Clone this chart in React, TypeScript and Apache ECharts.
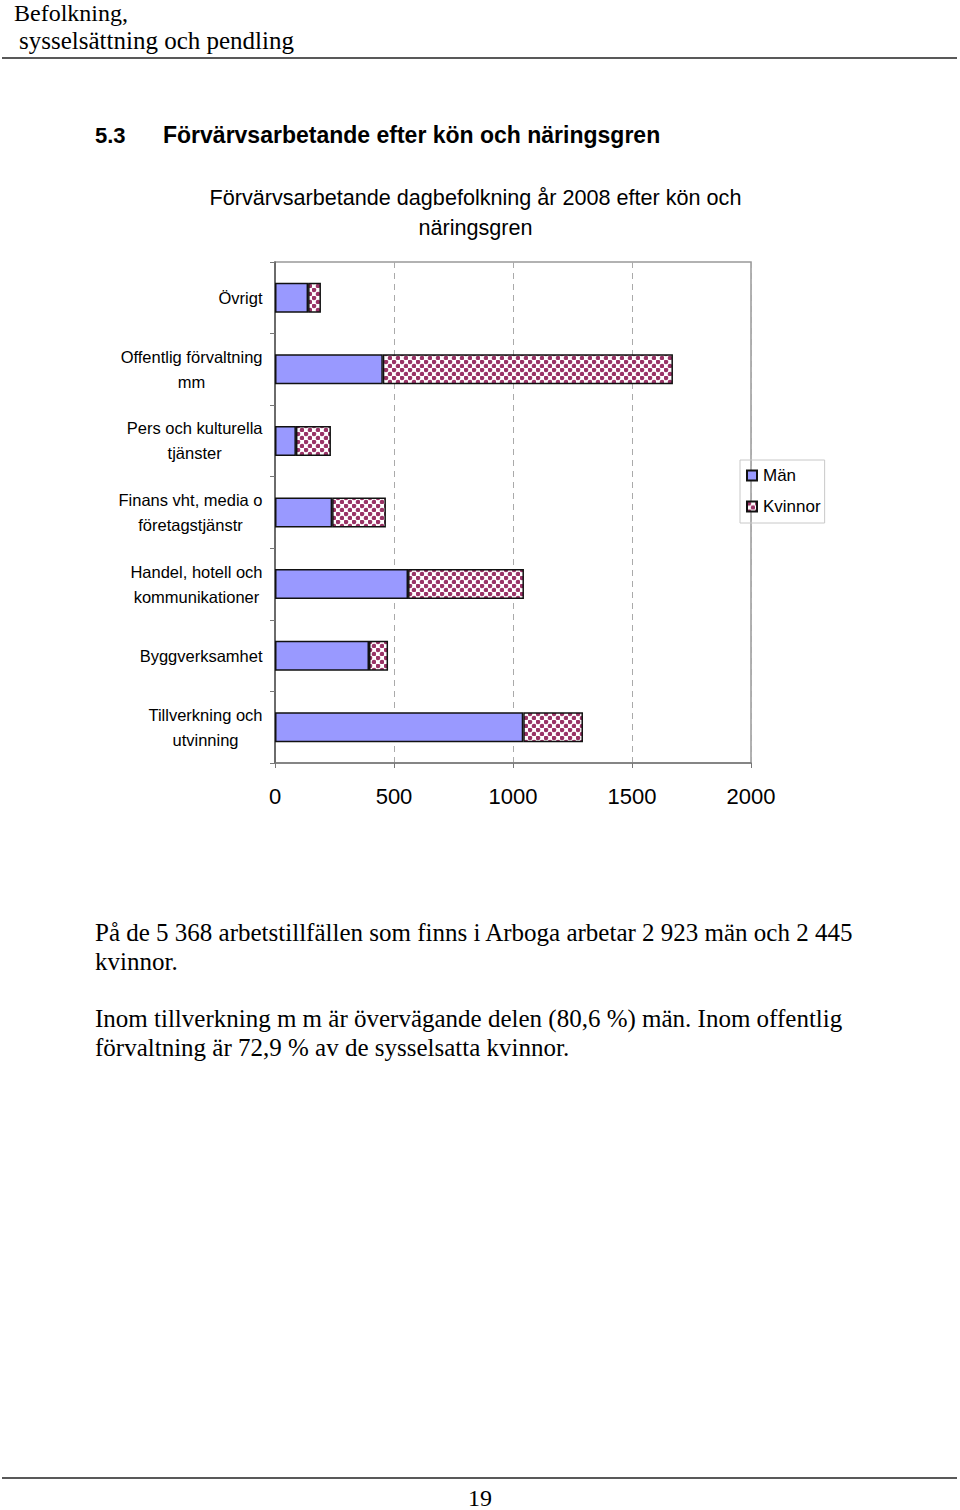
import React, { useEffect, useRef } from "react";
import * as echarts from "echarts";

const categories = [
  "Övrigt",
  "Offentlig förvaltning\nmm",
  "Pers och kulturella\ntjänster",
  "Finans vht, media o\nföretagstjänstr",
  "Handel, hotell och\nkommunikationer",
  "Byggverksamhet",
  "Tillverkning och\nutvinning",
];
const man = [139, 453, 88, 240, 559, 395, 1043];
const kvinnor = [54, 1219, 147, 226, 487, 80, 251];
const seriesNames = ["Män", "Kvinnor"];
const xTicks = [0, 500, 1000, 1500, 2000];

const SANS = "'Liberation Sans', Arial, sans-serif";
const SERIF = "'Liberation Serif', 'Times New Roman', serif";
const LABEL_SIZE = 16.5;

function makePattern(): string {
  const c = document.createElement("canvas");
  c.width = 8;
  c.height = 8;
  const ctx = c.getContext("2d")!;
  ctx.fillStyle = "#ffffff";
  ctx.fillRect(0, 0, 8, 8);
  ctx.fillStyle = "#993366";
  const dots = [
    [2, 2],
    [6, 6],
  ];
  for (const [x, y] of dots) {
    ctx.beginPath();
    ctx.arc(x, y, 2.3, 0, Math.PI * 2);
    ctx.fill();
  }
  return c.toDataURL();
}

function measure(t: string, font: string): number {
  const c = document.createElement("canvas");
  const ctx = c.getContext("2d")!;
  ctx.font = font;
  return ctx.measureText(t).width;
}

export default function App() {
  const ref = useRef<HTMLDivElement>(null);
  useEffect(() => {
    document.body.style.margin = "0";
    const chart = echarts.init(ref.current!, null, { renderer: "svg" });
    const pattern = { image: makePattern(), repeat: "repeat" };
    const font = `${LABEL_SIZE}px ${SANS}`;
    const rich: any = {};
    categories.forEach((c, i) => {
      const w = Math.max(...c.split("\n").map((l) => measure(l, font))) + 1;
      rich["c" + i] = {
        width: w,
        align: "center",
        fontFamily: SANS,
        fontSize: LABEL_SIZE,
        color: "#000",
        lineHeight: 25,
      };
    });
    const text = (x: number, y: number, t: string, f: any, extra: any = {}) => ({
      type: "text",
      x,
      y,
      style: {
        text: t,
        fill: "#000",
        verticalAlign: "middle",
        ...f,
        ...extra,
      },
    });
    chart.setOption({
      animation: false,
      backgroundColor: "#fff",
      legend: {
        orient: "vertical",
        left: 740,
        top: 460,
        data: seriesNames.map((n) => ({ name: n, icon: "rect" })),
        itemWidth: 10,
        itemHeight: 10,
        itemGap: 14,
        padding: [7, 4, 8, 6],
        borderColor: "#c8c8c8",
        borderWidth: 1,
        textStyle: { fontFamily: SANS, fontSize: 17, color: "#000", padding: [0, 0, 0, 1] },
      },
      grid: {
        left: 275,
        top: 262,
        width: 476,
        height: 501,
        show: true,
        borderColor: "#999",
        borderWidth: 1.5,
        containLabel: false,
      },
      xAxis: {
        type: "value",
        min: xTicks[0],
        max: xTicks[xTicks.length - 1],
        interval: xTicks[1] - xTicks[0],
        axisLine: { show: true, lineStyle: { color: "#777", width: 1.5 } },
        axisTick: { show: true, length: 5, lineStyle: { color: "#777" } },
        splitLine: { show: true, lineStyle: { color: "#aaa", type: [6, 5], width: 1 } },
        axisLabel: {
          fontFamily: SANS,
          fontSize: 22,
          color: "#000",
          margin: 22,
          formatter: (v: number) => String(v),
        },
      },
      yAxis: {
        type: "category",
        inverse: true,
        data: categories,
        axisLine: { show: true, lineStyle: { color: "#555", width: 1.5 } },
        axisTick: { show: true, length: 5, lineStyle: { color: "#777" } },
        axisLabel: {
          margin: 12,
          align: "right",
          formatter: (v: string) => {
            const i = categories.indexOf(v);
            return v
              .split("\n")
              .map((l) => `{c${i}|${l}}`)
              .join("\n");
          },
          rich,
        },
      },
      series: [
        {
          name: seriesNames[0],
          type: "bar",
          stack: "total",
          data: man,
          barWidth: 30,
          itemStyle: { color: "#9999ff", borderColor: "#111", borderWidth: 1.5 },
        },
        {
          name: seriesNames[1],
          type: "bar",
          stack: "total",
          data: kvinnor,
          barWidth: 30,
          itemStyle: { color: pattern, borderColor: "#111", borderWidth: 1.5 },
        },
      ],
      graphic: [
        text(14, 13, "Befolkning,", { fontFamily: SERIF, fontSize: 24 }),
        text(19, 40, "sysselsättning och pendling", { fontFamily: SERIF, fontSize: 25 }),
        { type: "line", shape: { x1: 2, y1: 58, x2: 957, y2: 58 }, style: { stroke: "#222", lineWidth: 1.5 } },
        text(95, 135, "5.3", { fontFamily: SANS, fontSize: 22, fontWeight: "bold" }),
        text(163, 135, "Förvärvsarbetande efter kön och näringsgren", {
          fontFamily: SANS,
          fontSize: 23,
          fontWeight: "bold",
        }),
        text(475.5, 197, "Förvärvsarbetande dagbefolkning år 2008 efter kön och", {
          fontFamily: SANS,
          fontSize: 21.6,
          align: "center",
        }),
        text(475.5, 227, "näringsgren", { fontFamily: SANS, fontSize: 21.6, align: "center" }),
        text(95, 932, "På de 5 368 arbetstillfällen som finns i Arboga arbetar 2 923 män och 2 445", {
          fontFamily: SERIF,
          fontSize: 25,
        }),
        text(95, 961, "kvinnor.", { fontFamily: SERIF, fontSize: 25 }),
        text(95, 1018, "Inom tillverkning m m är övervägande delen (80,6 %) män. Inom offentlig", {
          fontFamily: SERIF,
          fontSize: 25,
        }),
        text(95, 1047, "förvaltning är 72,9 % av de sysselsatta kvinnor.", { fontFamily: SERIF, fontSize: 25 }),
        { type: "line", shape: { x1: 2, y1: 1478, x2: 957, y2: 1478 }, style: { stroke: "#222", lineWidth: 1.5 } },
        text(480, 1498, "19", { fontFamily: SERIF, fontSize: 24, align: "center" }),
      ],
    });
    return () => chart.dispose();
  }, []);
  return (
    <div
      ref={ref}
      style={{ position: "absolute", left: 0, top: 0, width: 960, height: 1510 }}
    />
  );
}
